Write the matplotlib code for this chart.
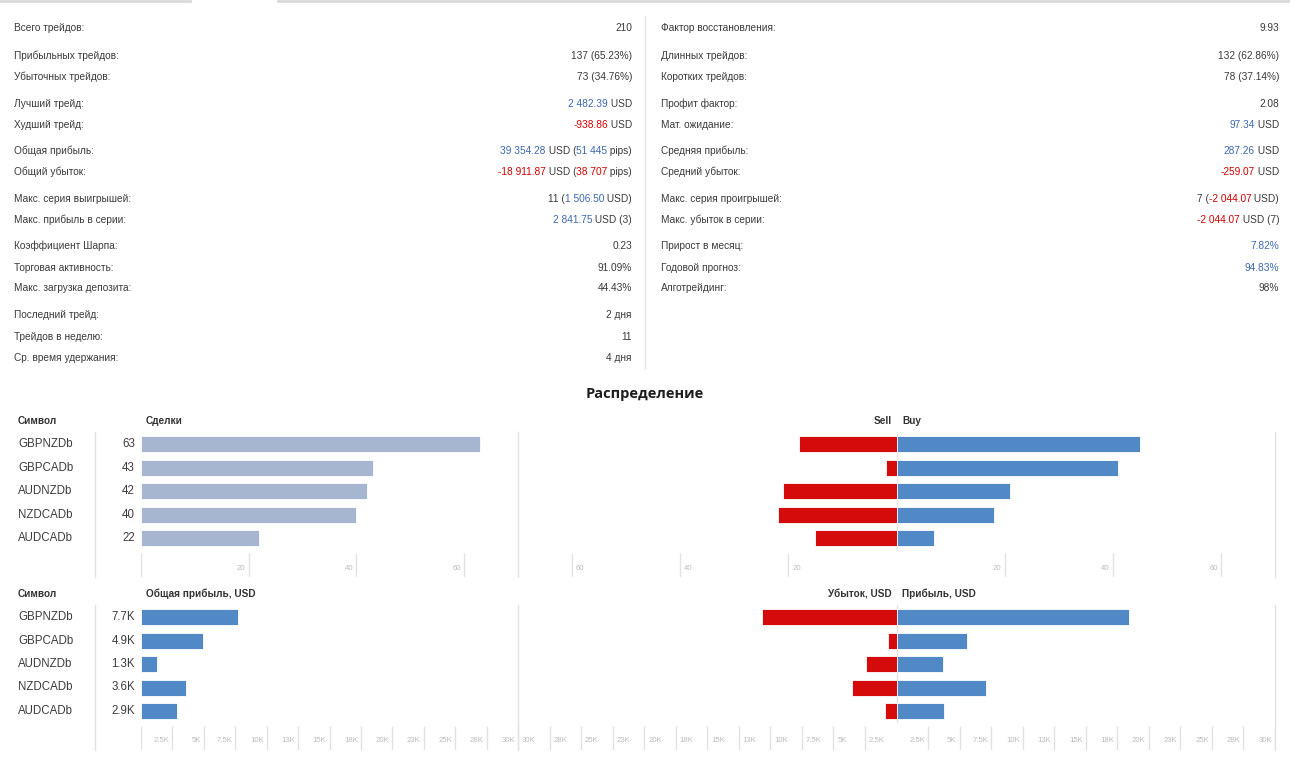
import matplotlib
matplotlib.use('Agg')
import matplotlib.pyplot as plt
from matplotlib.lines import Line2D
from matplotlib import transforms

# ---------------- data ----------------
left_labels = ["Всего трейдов:", "Прибыльных трейдов:", "Убыточных трейдов:", "Лучший трейд:",
               "Худший трейд:", "Общая прибыль:", "Общий убыток:", "Макс. серия выигрышей:",
               "Макс. прибыль в серии:", "Коэффициент Шарпа:", "Торговая активность:",
               "Макс. загрузка депозита:", "Последний трейд:", "Трейдов в неделю:",
               "Ср. время удержания:"]
left_values = [
    [("210", "d")],
    [("137 (65.23%)", "d")],
    [("73 (34.76%)", "d")],
    [("2 482.39", "b"), (" USD", "d")],
    [("-938.86", "r"), (" USD", "d")],
    [("39 354.28", "b"), (" USD (", "d"), ("51 445", "b"), (" pips)", "d")],
    [("-18 911.87", "r"), (" USD (", "d"), ("38 707", "r"), (" pips)", "d")],
    [("11 (", "d"), ("1 506.50", "b"), (" USD)", "d")],
    [("2 841.75", "b"), (" USD (3)", "d")],
    [("0.23", "d")],
    [("91.09%", "d")],
    [("44.43%", "d")],
    [("2 дня", "d")],
    [("11", "d")],
    [("4 дня", "d")],
]
right_labels = ["Фактор восстановления:", "Длинных трейдов:", "Коротких трейдов:", "Профит фактор:",
                "Мат. ожидание:", "Средняя прибыль:", "Средний убыток:", "Макс. серия проигрышей:",
                "Макс. убыток в серии:", "Прирост в месяц:", "Годовой прогноз:", "Алготрейдинг:"]
right_values = [
    [("9.93", "d")],
    [("132 (62.86%)", "d")],
    [("78 (37.14%)", "d")],
    [("2.08", "d")],
    [("97.34", "b"), (" USD", "d")],
    [("287.26", "b"), (" USD", "d")],
    [("-259.07", "r"), (" USD", "d")],
    [("7 (", "d"), ("-2 044.07", "r"), (" USD)", "d")],
    [("-2 044.07", "r"), (" USD (7)", "d")],
    [("7.82%", "b")],
    [("94.83%", "b")],
    [("98%", "d")],
]

title = "Распределение"
symbols = ["GBPNZDb", "GBPCADb", "AUDNZDb", "NZDCADb", "AUDCADb"]
trades = [63, 43, 42, 40, 22]
sell_trades = [18, 2, 21, 22, 15]
buy_trades = [45, 41, 21, 18, 7]
net_profit_k = [7.7, 4.9, 1.3, 3.6, 2.9]
loss_k = [10.7, 0.7, 2.4, 3.5, 0.9]
profit_k = [18.4, 5.6, 3.7, 7.1, 3.8]

trade_ticks_left = [0, 20, 40, 60]
trade_ticks_right = [-60, -40, -20, 20, 40, 60]
usd_ticks_left = [0, 2.5, 5, 7.5, 10, 12.5, 15, 17.5, 20, 22.5, 25, 27.5, 30]
usd_ticks_right = [-30, -27.5, -25, -22.5, -20, -17.5, -15, -12.5, -10, -7.5, -5, -2.5,
                   2.5, 5, 7.5, 10, 12.5, 15, 17.5, 20, 22.5, 25, 27.5, 30]

# ---------------- style / layout ----------------
W, H = 1290, 758
DARK = '#3a3a3a'
BLUE = '#3d68b0'
RED = '#d40000'
COLORS = {"d": DARK, "b": BLUE, "r": RED}
BAR_GREY = '#a7b6d0'
BAR_BLUE = '#5089c6'
BAR_RED = '#d50b0b'
GRID = '#e2e2e2'
TICK_TXT = '#bcbcbc'
FONT_STATS = ['Liberation Sans', 'DejaVu Sans']
FONT_CHART = ['Liberation Sans', 'DejaVu Sans']

fig = plt.figure(figsize=(12.9, 7.58), dpi=100)
fig.patch.set_facecolor('white')
renderer = fig.canvas.get_renderer()


def fx(x):
    return x / W


def fy(y):
    return 1 - y / H


def fig_line(xs, ys, color, lw=1.0):
    fig.add_artist(Line2D([fx(v) for v in xs], [fy(v) for v in ys], color=color, lw=lw))


def seg_text(xr, y, segs, size):
    x = xr
    for txt, ck in reversed(segs):
        t = fig.text(fx(x), fy(y), txt, ha='right', va='center', color=COLORS[ck],
                     fontsize=size, family=FONT_STATS)
        bb = t.get_window_extent(renderer)
        x = bb.x0


# top border with tab gap
fig_line([0, 190], [1, 1], '#d9d9d9', 2)
fig_line([278, W], [1, 1], '#d9d9d9', 2)
# column divider
fig_line([645, 645], [16, 368], '#e4e4e4', 1)

left_y = [28, 56, 77, 104, 125, 151, 172, 199, 220, 246, 268, 288, 315, 337, 358]
STAT_FS = 7.3
for lab, val, y in zip(left_labels, left_values, left_y):
    fig.text(fx(14), fy(y), lab, ha='left', va='center', color=DARK, fontsize=STAT_FS, family=FONT_STATS)
    seg_text(632, y, val, STAT_FS)
for lab, val, y in zip(right_labels, right_values, left_y):
    fig.text(fx(661), fy(y), lab, ha='left', va='center', color=DARK, fontsize=STAT_FS, family=FONT_STATS)
    seg_text(1279, y, val, STAT_FS)

fig.text(fx(645), fy(394), title, ha='center', va='center', fontsize=10.5, fontweight='bold',
         color='#1e1e1e', family=['Open Sans', 'DejaVu Sans'])

ROW = 23.5
BAR_H = 16 / ROW
LBL_FS = 8.3


def kfmt(v):
    a = abs(v)
    if a < 10:
        s = ('%.1f' % a).rstrip('0').rstrip('.')
    else:
        s = str(int(a + 0.5))
    return s + 'K'


def nfmt(v):
    return str(int(abs(v)))


def make_axes(x0, x1, ytop, ybot):
    return fig.add_axes([x0 / W, 1 - ybot / H, (x1 - x0) / W, (ybot - ytop) / H])


def chart(cy, ytop, ybot, tick_top, tick_lbl, header_y, net_vals, net_labels, net_color,
          lmax, lticks, sell, buy, rmax, rticks, fmt, headers):
    y_top = -(cy - ytop) / ROW
    y_bot = (ybot - cy) / ROW
    axL = make_axes(141, 518, ytop, ybot)
    axR = make_axes(518, 1275, ytop, ybot)
    axL.set_xlim(0, lmax)
    axR.set_xlim(-rmax, rmax)
    for ax in (axL, axR):
        ax.set_ylim(y_bot, y_top)
        ax.axis('off')
    ypos = list(range(len(symbols)))
    t0 = (tick_top - cy) / ROW
    tl = (tick_lbl - cy) / ROW
    # tick marks
    axL.vlines(lticks, t0, y_bot, color=GRID, lw=1, zorder=0)
    axR.vlines(rticks, t0, y_bot, color=GRID, lw=1, zorder=0)
    axR.vlines([0], y_top, 4.45, color=GRID, lw=1, zorder=0)
    # bars
    axL.barh(ypos, net_vals, height=BAR_H, color=net_color, edgecolor='white', linewidth=0.6, zorder=2)
    axR.barh(ypos, [-v for v in sell], height=BAR_H, color=BAR_RED, edgecolor='white', linewidth=0.6, zorder=2)
    axR.barh(ypos, buy, height=BAR_H, color=BAR_BLUE, edgecolor='white', linewidth=0.6, zorder=2)
    # tick labels
    offL = transforms.offset_copy(axL.transData, fig=fig, x=-3, y=0, units='dots')
    offRn = transforms.offset_copy(axR.transData, fig=fig, x=4, y=0, units='dots')
    offRp = transforms.offset_copy(axR.transData, fig=fig, x=-3, y=0, units='dots')
    for v in lticks:
        if v == 0:
            continue
        axL.text(v, tl, fmt(v), transform=offL, ha='right', va='center', fontsize=5.6,
                 color=TICK_TXT, family=FONT_CHART)
    for v in rticks:
        if v < 0:
            axR.text(v, tl, fmt(v), transform=offRn, ha='left', va='center', fontsize=5.6,
                     color=TICK_TXT, family=FONT_CHART)
        else:
            axR.text(v, tl, fmt(v), transform=offRp, ha='right', va='center', fontsize=5.6,
                     color=TICK_TXT, family=FONT_CHART)
    # symbol & value labels
    bt = transforms.blended_transform_factory(fig.transFigure, axL.transData)
    for i, (s, nl) in enumerate(zip(symbols, net_labels)):
        axL.text(fx(18), i, s, transform=bt, ha='left', va='center', fontsize=LBL_FS,
                 color='#3c3c3c', family=FONT_CHART)
        axL.text(fx(135), i, nl, transform=bt, ha='right', va='center', fontsize=LBL_FS,
                 color='#3c3c3c', family=FONT_CHART)
    # frame lines
    for x in (95, 518, 1275):
        fig_line([x, x], [ytop, ybot], GRID, 1)
    # headers
    hkw = dict(va='center', fontsize=7.2, fontweight='bold', color='#333333', family=FONT_STATS)
    fig.text(fx(18), fy(header_y), "Символ", ha='left', **hkw)
    fig.text(fx(146), fy(header_y), headers[0], ha='left', **hkw)
    fig.text(fx(892), fy(header_y), headers[1], ha='right', **hkw)
    fig.text(fx(902), fy(header_y), headers[2], ha='left', **hkw)


chart(444, 432, 577, 553, 569, 421, trades, [str(v) for v in trades], BAR_GREY,
      70, trade_ticks_left, sell_trades, buy_trades, 70, trade_ticks_right, nfmt,
      ["Сделки", "Sell", "Buy"])

chart(617, 605, 750, 726, 741, 594, net_profit_k, [kfmt(v) for v in net_profit_k], BAR_BLUE,
      30, usd_ticks_left, loss_k, profit_k, 30, usd_ticks_right, kfmt,
      ["Общая прибыль, USD", "Убыток, USD", "Прибыль, USD"])

fig.savefig('out.png', dpi=100)
